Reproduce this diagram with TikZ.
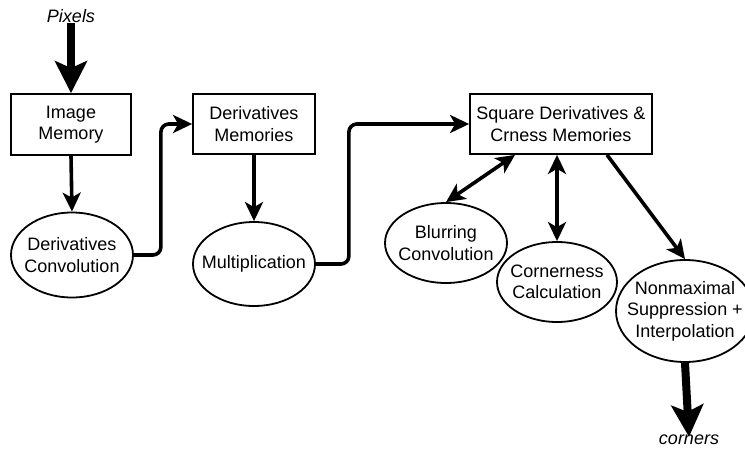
\documentclass[tikz,border=0pt]{standalone}
\usepackage{fontspec}
\setmainfont{Liberation Sans}
\usetikzlibrary{shapes.geometric,arrows.meta}
\begin{document}
\begin{tikzpicture}[x=1pt,y=-1pt,
  every node/.style={font=\fontsize{18}{21.5}\selectfont, align=center},
  membox/.style={draw, line width=1.8pt, rectangle, inner sep=0pt},
  proc/.style={draw, line width=1.8pt, ellipse, inner xsep=-25pt, inner ysep=-12pt},
  lbl/.style={font=\fontsize{18}{21.5}\selectfont\itshape, inner sep=0pt},
  flow/.style={line width=3.6pt, -{Stealth[length=19pt, width=18pt, inset=5pt]}},
  bothway/.style={line width=3.6pt, {Stealth[length=19pt, width=18pt, inset=5pt]}-{Stealth[length=19pt, width=18pt, inset=5pt]}},
  bigflow/.style={line width=8pt, -{Stealth[length=32pt, width=32pt, inset=7pt]}},
  elbow/.style={rounded corners=8pt}]
\useasboundingbox (0,0) rectangle (745,455);
\clip (0,0) rectangle (745,455);

% memories
\node[membox, minimum width=120pt, minimum height=61pt] (im) at (71,124.5) {Image\\Memory};
\node[membox, minimum width=122pt, minimum height=60pt] (dm) at (254,124) {Derivatives\\Memories};
\node[membox, minimum width=182pt, minimum height=60pt] (sq) at (561,124) {Square Derivatives \&\\Crness Memories};

% processing stages
\node[proc, minimum width=122pt, minimum height=85pt] (dc) at (72,255) {Derivatives\\Convolution};
\node[proc, minimum width=122pt, minimum height=84pt] (mu) at (254,264) {Multiplication};
\node[proc, minimum width=122pt, minimum height=80pt] (bc) at (446,243) {Blurring\\Convolution};
\node[proc, minimum width=120pt, minimum height=80pt] (cc) at (557,282) {Cornerness\\Calculation};
\node[proc, minimum width=138pt, minimum height=102pt] (nm) at (685,311) {Nonmaximal\\Suppression +\\Interpolation};

% input and output labels
\node[lbl] (px) at (71,16) {Pixels};
\node[lbl] (out) at (689,440) {corners};

% data flow
\draw[bigflow] (px.south) -- (im.north);
\draw[flow] (im.south) -- (dc.north);
\draw[flow, elbow] (dc.east) -- ++(27,0) |- (dm.west);
\draw[flow] (dm.south) -- (mu.north);
\draw[flow, elbow] (mu.east) -- ++(33,0) |- (sq.west);
\draw[bothway] (bc.north) -- ([xshift=-46pt]sq.south);
\draw[bothway] (cc.north) -- (cc.north |- sq.south);
\draw[flow] ([xshift=46pt]sq.south) -- (nm.north);
\draw[bigflow] (nm.south) -- ([yshift=-2pt]out.north);
\end{tikzpicture}
\end{document}
